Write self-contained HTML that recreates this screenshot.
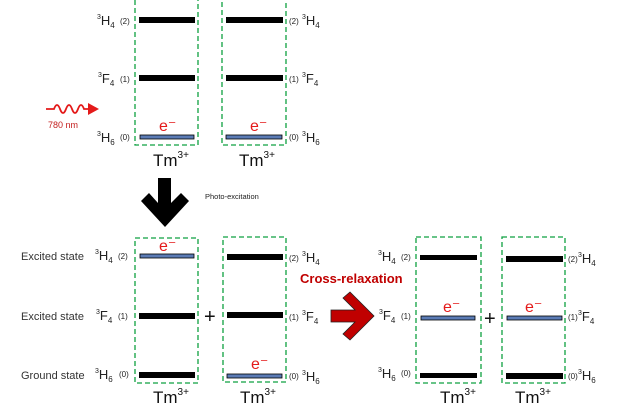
<!DOCTYPE html>
<html><head><style>
html,body{margin:0;padding:0;background:#fff;width:620px;height:410px;overflow:hidden}
svg text{font-family:"Liberation Sans","DejaVu Sans",sans-serif}
</style></head><body>
<svg width="620" height="410" viewBox="0 0 620 410" xmlns="http://www.w3.org/2000/svg">
<defs>
<style>
.box{fill:none;stroke:#0fa040;stroke-width:1.3;stroke-dasharray:5,3}
.lab{font-size:13px;fill:#222}
.sm{font-size:8px;fill:#222}
.tm{font-size:17px;fill:#111}
.e{font-size:16px;fill:#e41a1a}
.st{font-size:11px;fill:#333}
</style>
</defs>
<!-- TOP -->
<rect class="box" x="135" y="-5" width="63" height="150"/>
<rect class="box" x="222" y="-5" width="64" height="150"/>
<rect x="139" y="17" width="56" height="6" fill="#000"/>
<rect x="139" y="75" width="56" height="6" fill="#000"/>
<rect x="140" y="135" width="54" height="4" fill="#5b7bb5" stroke="#000" stroke-width="0.8"/>
<rect x="226" y="17" width="57" height="6" fill="#000"/>
<rect x="226" y="75" width="57" height="6" fill="#000"/>
<rect x="226" y="135" width="56" height="4" fill="#5b7bb5" stroke="#000" stroke-width="0.8"/>
<text class="e" x="159" y="131">e⁻</text>
<text class="e" x="250" y="131">e⁻</text>
<text class="lab" x="97" y="25"><tspan font-size="7" dy="-6">3</tspan><tspan dy="6">H</tspan><tspan font-size="8" dy="3">4</tspan></text><text class="sm" x="120" y="24">(2)</text>
<text class="lab" x="98" y="83"><tspan font-size="7" dy="-6">3</tspan><tspan dy="6">F</tspan><tspan font-size="8" dy="3">4</tspan></text><text class="sm" x="120" y="82">(1)</text>
<text class="lab" x="97" y="142"><tspan font-size="7" dy="-6">3</tspan><tspan dy="6">H</tspan><tspan font-size="8" dy="3">6</tspan></text><text class="sm" x="120" y="140">(0)</text>
<text class="sm" x="289" y="24">(2)</text><text class="lab" x="302" y="25"><tspan font-size="7" dy="-6">3</tspan><tspan dy="6">H</tspan><tspan font-size="8" dy="3">4</tspan></text>
<text class="sm" x="289" y="82">(1)</text><text class="lab" x="302" y="83"><tspan font-size="7" dy="-6">3</tspan><tspan dy="6">F</tspan><tspan font-size="8" dy="3">4</tspan></text>
<text class="sm" x="289" y="140">(0)</text><text class="lab" x="302" y="142"><tspan font-size="7" dy="-6">3</tspan><tspan dy="6">H</tspan><tspan font-size="8" dy="3">6</tspan></text>
<text class="tm" x="153" y="166">Tm<tspan font-size="10" dy="-8">3+</tspan></text>
<text class="tm" x="239" y="166">Tm<tspan font-size="10" dy="-8">3+</tspan></text>
<!-- wave arrow -->
<path d="M46,109 L54,109 Q57,101 60,109 Q63,117 66,109 Q69,101 72,109 Q75,117 78,109 Q81,101 84,109 L88,109" fill="none" stroke="#e41a1a" stroke-width="1.8"/>
<polygon points="88,103 99,109 88,115" fill="#e41a1a"/>
<text x="48" y="128" font-size="9" fill="#c42020">780 nm</text>
<!-- down arrow -->
<polygon points="158,178 171,178 171,203 181,193 189,201 165,227 141,201 149,193 158,203" fill="#000"/>
<text x="205" y="199" font-size="7.5" fill="#222">Photo-excitation</text>
<!-- BOTTOM LEFT -->
<rect class="box" x="135" y="238" width="63" height="145"/>
<rect class="box" x="223" y="237" width="63" height="145"/>
<rect x="140" y="254" width="54" height="4" fill="#5b7bb5" stroke="#000" stroke-width="0.8"/>
<rect x="139" y="313" width="56" height="6" fill="#000"/>
<rect x="139" y="372" width="56" height="6" fill="#000"/>
<rect x="227" y="254" width="56" height="6" fill="#000"/>
<rect x="227" y="312" width="56" height="6" fill="#000"/>
<rect x="227" y="374" width="55" height="4" fill="#5b7bb5" stroke="#000" stroke-width="0.8"/>
<text class="e" x="159" y="251">e⁻</text>
<text class="e" x="251" y="369">e⁻</text>
<text class="st" x="21" y="260">Excited state</text>
<text class="st" x="21" y="320">Excited state</text>
<text class="st" x="21" y="379">Ground state</text>
<text class="lab" x="95" y="260"><tspan font-size="7" dy="-6">3</tspan><tspan dy="6">H</tspan><tspan font-size="8" dy="3">4</tspan></text><text class="sm" x="118" y="259">(2)</text>
<text class="lab" x="96" y="320"><tspan font-size="7" dy="-6">3</tspan><tspan dy="6">F</tspan><tspan font-size="8" dy="3">4</tspan></text><text class="sm" x="118" y="319">(1)</text>
<text class="lab" x="95" y="379"><tspan font-size="7" dy="-6">3</tspan><tspan dy="6">H</tspan><tspan font-size="8" dy="3">6</tspan></text><text class="sm" x="119" y="377">(0)</text>
<text class="sm" x="289" y="261">(2)</text><text class="lab" x="302" y="262"><tspan font-size="7" dy="-6">3</tspan><tspan dy="6">H</tspan><tspan font-size="8" dy="3">4</tspan></text>
<text class="sm" x="289" y="320">(1)</text><text class="lab" x="302" y="321"><tspan font-size="7" dy="-6">3</tspan><tspan dy="6">F</tspan><tspan font-size="8" dy="3">4</tspan></text>
<text class="sm" x="289" y="379">(0)</text><text class="lab" x="302" y="381"><tspan font-size="7" dy="-6">3</tspan><tspan dy="6">H</tspan><tspan font-size="8" dy="3">6</tspan></text>
<text x="204" y="323" font-size="20" fill="#111">+</text>
<text class="tm" x="153" y="403">Tm<tspan font-size="10" dy="-8">3+</tspan></text>
<text class="tm" x="240" y="403">Tm<tspan font-size="10" dy="-8">3+</tspan></text>
<!-- cross relaxation -->
<text x="300" y="283" font-size="13" font-weight="bold" fill="#c00000">Cross-relaxation</text>
<polygon points="331,310 355,310 343,298 350,292 374,316 350,340 343,334 355,322 331,322" fill="#c00000" stroke="#222" stroke-width="0.8"/>
<!-- BOTTOM RIGHT -->
<rect class="box" x="416" y="237" width="65" height="146"/>
<rect class="box" x="502" y="237" width="63" height="146"/>
<rect x="420" y="255" width="57" height="5" fill="#000"/>
<rect x="421" y="316" width="54" height="4" fill="#5b7bb5" stroke="#000" stroke-width="0.8"/>
<rect x="420" y="373" width="57" height="5" fill="#000"/>
<rect x="506" y="256" width="57" height="6" fill="#000"/>
<rect x="507" y="316" width="55" height="4" fill="#5b7bb5" stroke="#000" stroke-width="0.8"/>
<rect x="506" y="373" width="57" height="6" fill="#000"/>
<text class="e" x="443" y="312">e⁻</text>
<text class="e" x="525" y="312">e⁻</text>
<text x="484" y="325" font-size="20" fill="#111">+</text>
<text class="lab" x="378" y="261"><tspan font-size="7" dy="-6">3</tspan><tspan dy="6">H</tspan><tspan font-size="8" dy="3">4</tspan></text><text class="sm" x="401" y="260">(2)</text>
<text class="lab" x="379" y="320"><tspan font-size="7" dy="-6">3</tspan><tspan dy="6">F</tspan><tspan font-size="8" dy="3">4</tspan></text><text class="sm" x="401" y="319">(1)</text>
<text class="lab" x="378" y="378"><tspan font-size="7" dy="-6">3</tspan><tspan dy="6">H</tspan><tspan font-size="8" dy="3">6</tspan></text><text class="sm" x="401" y="376">(0)</text>
<text class="sm" x="568" y="262">(2)</text><text class="lab" x="578" y="263"><tspan font-size="7" dy="-6">3</tspan><tspan dy="6">H</tspan><tspan font-size="8" dy="3">4</tspan></text>
<text class="sm" x="568" y="320">(1)</text><text class="lab" x="578" y="321"><tspan font-size="7" dy="-6">3</tspan><tspan dy="6">F</tspan><tspan font-size="8" dy="3">4</tspan></text>
<text class="sm" x="568" y="379">(0)</text><text class="lab" x="578" y="380"><tspan font-size="7" dy="-6">3</tspan><tspan dy="6">H</tspan><tspan font-size="8" dy="3">6</tspan></text>
<text class="tm" x="440" y="403">Tm<tspan font-size="10" dy="-8">3+</tspan></text>
<text class="tm" x="515" y="403">Tm<tspan font-size="10" dy="-8">3+</tspan></text>
</svg>
</body></html>
